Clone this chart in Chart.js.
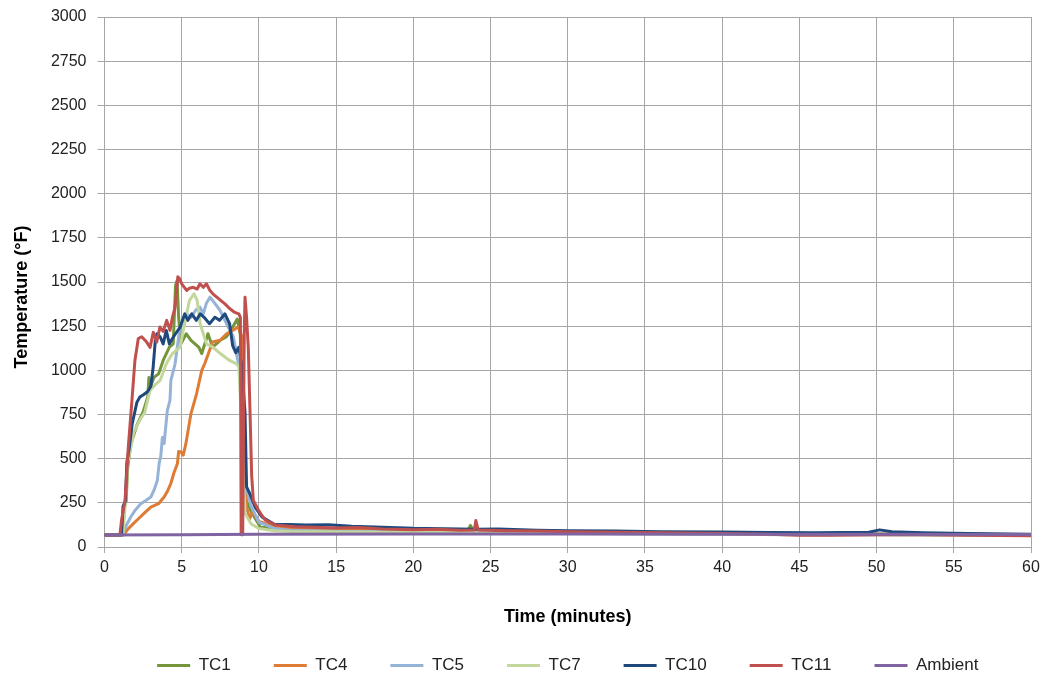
<!DOCTYPE html>
<html>
<head>
<meta charset="utf-8">
<script src="https://cdn.jsdelivr.net/npm/chart.js@4.4.1/dist/chart.umd.min.js"></script>
<style>
  html, body { margin: 0; padding: 0; background: #fff; }
  #wrap { width: 1049px; height: 684px; position: relative; }
</style>
</head>
<body>
<div id="wrap"><canvas id="tempChart" width="1049" height="684"></canvas></div>
<script>
// 熱電対ごとの温度履歴 [分, °F]
const seriesNames = ['TC1', 'TC4', 'TC5', 'TC7', 'TC10', 'TC11', 'Ambient'];
const seriesColors = ['#74953A', '#DE7B34', '#95B3D7', '#C3D69B', '#1F497D', '#C0504D', '#8064A2'];

const tc1 = [
    [0, 68], [1.15, 68], [1.3, 230], [1.4, 260], [1.5, 450], [1.7, 580], [2.1, 690], [2.5, 765],
    [2.8, 850], [2.88, 960], [2.95, 900], [3.2, 960], [3.5, 980], [3.8, 1056], [4.2, 1132], [4.45, 1150],
    [4.6, 1480], [4.7, 1508], [4.8, 1300], [4.95, 1150], [5.3, 1207], [5.6, 1170], [6.1, 1132], [6.3, 1095],
    [6.7, 1207], [7.0, 1132], [7.5, 1170], [7.9, 1190], [8.3, 1245], [8.6, 1290], [8.8, 1200], [9.0, 300],
    [9.5, 200], [10.1, 112], [11, 108], [12, 106], [14, 100], [16, 96], [18, 94], [20, 92], [22, 90],
    [23.5, 92], [23.7, 122], [23.9, 92], [26, 88], [30, 84], [35, 80], [40, 76], [45, 74], [50, 74],
    [55, 72], [60, 70]
];
const tc4 = [
    [0, 68], [1.25, 68], [1.5, 100], [1.9, 135], [2.2, 160], [2.56, 190], [3.0, 226], [3.5, 245],
    [3.86, 283], [4.1, 320], [4.29, 358], [4.5, 420], [4.72, 471], [4.8, 540], [4.95, 538], [5.1, 520],
    [5.27, 585], [5.6, 755], [5.97, 870], [6.3, 1000], [6.5, 1040], [6.73, 1095], [7.0, 1160], [7.48, 1170],
    [7.91, 1207], [8.3, 1226], [8.67, 1245], [8.9, 1190], [9.1, 500], [9.2, 226], [9.4, 160], [9.6, 200],
    [10, 145], [11, 118], [12, 106], [14, 98], [16, 94], [18, 92], [20, 90], [25, 86], [30, 82],
    [35, 79], [40, 76], [45, 73], [50, 72], [55, 70], [60, 68]
];
const tc5 = [
    [0, 68], [1.15, 68], [1.4, 120], [1.7, 170], [2.0, 210], [2.35, 245], [2.7, 265], [3.0, 283],
    [3.2, 320], [3.42, 377], [3.55, 480], [3.64, 510], [3.75, 620], [3.86, 585], [4.07, 773], [4.24, 830],
    [4.3, 943], [4.57, 1037], [4.89, 1245], [5.1, 1290], [5.32, 1320], [5.6, 1300], [5.9, 1340], [6.18, 1358],
    [6.4, 1320], [6.6, 1380], [6.83, 1414], [7.0, 1396], [7.48, 1340], [7.9, 1264], [8.34, 1190], [8.67, 1037],
    [8.8, 1000], [9.0, 600], [9.2, 330], [9.5, 230], [10, 140], [11, 105], [12, 95], [14, 90], [16, 88],
    [20, 86], [25, 82], [30, 78], [35, 75], [40, 72], [45, 70], [50, 70], [55, 68], [60, 66]
];
const tc7 = [
    [0, 68], [1.2, 68], [1.35, 250], [1.5, 480], [1.7, 560], [1.9, 650], [2.3, 720], [2.6, 760],
    [2.95, 887], [3.3, 920], [3.6, 943], [4.0, 1037], [4.4, 1095], [4.9, 1132], [5.1, 1226], [5.5, 1396],
    [5.8, 1433], [6.0, 1396], [6.2, 1264], [6.6, 1150], [7.0, 1132], [7.5, 1095], [8.1, 1056], [8.55, 1037],
    [8.7, 1020], [8.85, 760], [9.1, 190], [9.5, 130], [10, 105], [11, 92], [12, 88], [14, 86], [16, 85],
    [20, 83], [25, 80], [30, 77], [35, 75], [40, 72], [45, 70], [50, 70], [55, 68], [60, 67]
];
const tc10 = [
    [0, 68], [1.1, 68], [1.2, 230], [1.35, 260], [1.45, 480], [1.6, 560], [1.8, 700], [1.95, 760],
    [2.1, 820], [2.3, 850], [2.5, 860], [2.8, 880], [3.0, 910], [3.15, 1017], [3.3, 1180], [3.4, 1207],
    [3.6, 1190], [3.8, 1150], [4.0, 1226], [4.2, 1150], [4.4, 1180], [4.6, 1207], [4.9, 1245], [5.2, 1320],
    [5.4, 1283], [5.65, 1320], [5.95, 1283], [6.2, 1320], [6.45, 1300], [6.8, 1264], [7.15, 1300], [7.45, 1283],
    [7.8, 1320], [8.1, 1264], [8.3, 1140], [8.5, 1100], [8.7, 1130], [8.9, 1020], [9.1, 760], [9.2, 340],
    [9.42, 300], [9.75, 226], [10.2, 170], [11, 128], [12, 128], [13, 124], [14.5, 126], [16, 118],
    [18, 112], [20, 106], [22, 104], [24, 100], [25.5, 102], [28, 95], [30, 92], [33, 90], [36, 87],
    [40, 85], [43, 82], [46, 80], [49.5, 84], [50.2, 97], [51, 86], [53, 80], [56, 76], [60, 72]
];
const tc11 = [
    [0, 68], [1.0, 68], [1.1, 150], [1.33, 264], [1.54, 565], [1.76, 810], [1.97, 1056], [2.19, 1180],
    [2.41, 1190], [2.73, 1160], [2.95, 1130], [3.16, 1215], [3.38, 1160], [3.59, 1245], [3.8, 1220],
    [4.03, 1283], [4.24, 1226], [4.4, 1300], [4.57, 1358], [4.75, 1530], [4.85, 1520], [5.0, 1490],
    [5.32, 1452], [5.5, 1465], [5.75, 1470], [6.0, 1460], [6.18, 1490], [6.4, 1470], [6.6, 1490],
    [6.83, 1452], [7.05, 1430], [7.27, 1414], [7.6, 1390], [7.8, 1376], [8.1, 1350], [8.4, 1330],
    [8.7, 1320], [8.8, 1300], [8.85, 70], [8.95, 70], [9.05, 1200], [9.1, 1414], [9.2, 1300], [9.31, 1132],
    [9.42, 780], [9.53, 405], [9.64, 264], [9.96, 210], [10.4, 153], [11.05, 125], [12.35, 115],
    [13.5, 112], [15, 108], [16.5, 110], [18, 102], [20, 98], [21.5, 100], [23, 95], [23.95, 96],
    [24.05, 150], [24.2, 96], [26, 92], [28, 90], [30, 87], [33, 84], [36, 80], [40, 76], [43, 72],
    [45, 66], [47, 67], [50, 70], [53, 70], [56, 66], [60, 64]
];
const ambient = [
    [0, 68], [5, 70], [10, 72], [20, 73], [30, 73], [40, 72], [50, 72], [60, 71]
];

const seriesData = [tc1, tc4, tc5, tc7, tc10, tc11, ambient];

const xTicks = { min: 0, max: 60, step: 5 };
const yTicks = { min: 0, max: 3000, step: 250 };

const gridColor = '#a6a6a6';
const fontFamily = '"Liberation Sans", Arial, sans-serif';

// 軸タイトル（元図の位置に合わせて描画）
const axisTitlePlugin = {
    id: 'axisTitles',
    afterDraw(chart) {
        const ctx = chart.ctx;
        ctx.save();
        ctx.fillStyle = '#000';
        ctx.font = 'bold 18px ' + fontFamily;
        ctx.textAlign = 'center';
        ctx.textBaseline = 'middle';
        const area = chart.chartArea;
        ctx.fillText('Time (minutes)', (area.left + area.right) / 2, 617);
        ctx.translate(22, 297);
        ctx.rotate(-Math.PI / 2);
        ctx.fillText('Temperature (°F)', 0, 0);
        ctx.restore();
    }
};

// 凡例をプロット領域の下に揃える
const legendUnderPlot = {
    id: 'legendUnderPlot',
    afterLayout(chart) {
        const lg = chart.legend;
        if (!lg) return;
        lg.left = chart.chartArea.left;
        lg.right = chart.chartArea.right;
        lg.width = lg.right - lg.left;
    }
};

const datasets = seriesNames.map((name, i) => ({
    label: name,
    data: seriesData[i].map(p => ({ x: p[0], y: p[1] })),
    borderColor: seriesColors[i],
    backgroundColor: seriesColors[i],
    borderWidth: 3,
    borderJoinStyle: 'round',
    borderCapStyle: 'round',
    pointRadius: 0,
    tension: 0,
    order: seriesNames.length - i
}));

const config = {
    type: 'line',
    data: { datasets: datasets },
    options: {
        responsive: false,
        animation: false,
        layout: {
            padding: { top: 17, right: 18, bottom: 0, left: 0 }
        },
        scales: {
            x: {
                type: 'linear',
                min: xTicks.min,
                max: xTicks.max,
                ticks: {
                    stepSize: xTicks.step,
                    color: '#222',
                    padding: 5,
                    font: { family: fontFamily, size: 16 },
                    maxRotation: 0,
                    callback: v => String(v)
                },
                grid: { color: gridColor, tickLength: 6, lineWidth: 1 },
                border: { color: gridColor },
                afterFit(scale) { scale.height = 67; }
            },
            y: {
                min: yTicks.min,
                max: yTicks.max,
                ticks: {
                    stepSize: yTicks.step,
                    color: '#222',
                    padding: 11,
                    font: { family: fontFamily, size: 16 },
                    callback: v => String(v)
                },
                grid: { color: gridColor, tickLength: 7, lineWidth: 1 },
                border: { color: gridColor },
                afterFit(scale) {
                    scale.width = 104.5;
                    scale.paddingTop = 0;
                    scale.paddingBottom = 0;
                }
            }
        },
        plugins: {
            legend: {
                position: 'bottom',
                labels: {
                    boxWidth: 33,
                    boxHeight: 3,
                    padding: 43,
                    color: '#222',
                    font: { family: fontFamily, size: 17 },
                    sort: (a, b) => a.datasetIndex - b.datasetIndex,
                    generateLabels(chart) {
                        return chart.data.datasets.map((ds, i) => ({
                            text: ds.label,
                            fillStyle: ds.borderColor,
                            strokeStyle: ds.borderColor,
                            lineWidth: 0,
                            hidden: !chart.isDatasetVisible(i),
                            datasetIndex: i,
                            fontColor: '#222'
                        }));
                    }
                }
            },
            tooltip: { enabled: false }
        }
    },
    plugins: [axisTitlePlugin, legendUnderPlot]
};

const ctx = document.getElementById('tempChart').getContext('2d');
const tempChart = new Chart(ctx, config);
</script>
</body>
</html>
